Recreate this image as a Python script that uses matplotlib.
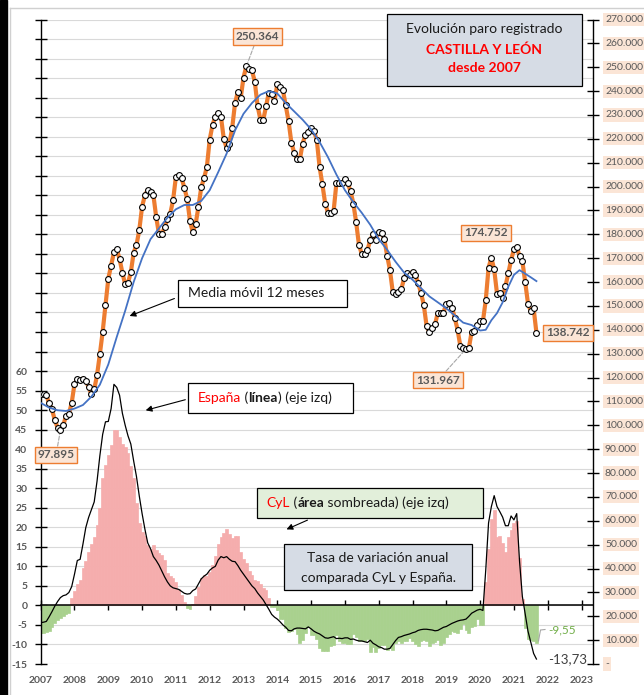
import numpy as np
import matplotlib
matplotlib.use("Agg")
import matplotlib.pyplot as plt
from matplotlib.patches import Rectangle
from matplotlib.lines import Line2D

plt.rcParams['font.family'] = ['Lato', 'DejaVu Sans']

W, H = 644, 695
START_YEAR = 2007

# paro registrado CyL, miles, ene-2007 .. sep-2021 (eje dcho)
cyl_paro = [
    113.1, 113.0, 112.6, 109.2, 106.7, 102.2, 99.0, 97.895, 100.1, 103.9, 104.7, 109.4,
    117.3, 119.2, 119.0, 119.6, 118.6, 116.1, 113.1, 115.0, 121.0, 129.8, 139.2, 150.4,
    161.4, 166.9, 172.5, 173.7, 169.7, 163.9, 159.0, 159.7, 164.1, 172.3, 175.5, 181.8,
    191.6, 196.4, 198.6, 197.8, 196.5, 187.3, 180.1, 180.1, 182.9, 186.5, 188.7, 194.3,
    204.1, 204.8, 203.7, 199.5, 194.9, 185.6, 180.8, 184.3, 191.5, 199.7, 203.5, 208.3,
    219.7, 225.8, 229.3, 231.0, 229.2, 220.0, 216.2, 218.0, 224.7, 235.0, 239.7, 237.1,
    245.7, 250.364, 249.4, 248.7, 244.0, 233.8, 228.1, 227.8, 233.7, 239.4, 238.6, 235.8,
    242.9, 241.8, 240.4, 234.0, 227.4, 218.4, 214.2, 211.4, 211.4, 218.0, 221.8, 223.0,
    224.6, 223.2, 219.7, 208.3, 201.0, 192.9, 189.1, 189.1, 189.8, 201.6, 201.6, 201.6,
    203.0, 201.3, 198.2, 192.9, 185.0, 175.5, 171.7, 171.7, 173.4, 177.6, 180.1, 177.8,
    180.8, 180.7, 178.0, 171.0, 165.0, 155.7, 155.2, 155.9, 156.9, 161.5, 163.9, 162.9,
    164.3, 162.9, 159.7, 155.5, 150.5, 141.6, 139.0, 140.7, 142.3, 147.2, 147.2, 147.2,
    151.0, 151.1, 149.3, 145.1, 140.0, 133.1, 132.3, 131.967, 132.2, 139.2, 139.4, 142.0,
    143.6, 143.6, 152.3, 166.0, 170.2, 165.3, 155.2, 155.5, 153.4, 158.3, 163.6, 169.2,
    173.7, 174.752, 170.9, 168.8, 160.1, 151.0, 147.8, 149.0, 138.742,
]

# media movil 12 meses (miles), leida cada ~3 meses
ma_month = [0, 3, 6, 9, 12, 15, 18, 21, 24, 27, 30, 33, 36, 39, 42, 45, 48, 51, 54, 57,
            60, 63, 66, 69, 72, 75, 78, 81, 84, 87, 90, 93, 96, 99, 102, 105, 108, 111,
            114, 117, 120, 123, 126, 129, 132, 135, 138, 141, 144, 147, 150, 153, 156,
            158, 160, 162, 164, 166, 168, 170, 172, 174, 176]
ma_value = [109.4, 107.4, 106.3, 106.0, 107.0, 108.5, 112.0, 117.0, 125.5, 137.0, 148.0,
            160.0, 170.0, 178.0, 182.5, 187.0, 190.5, 192.3, 192.3, 194.0, 198.5, 206.0,
            213.8, 223.5, 230.5, 235.0, 238.5, 240.0, 239.0, 235.0, 231.5, 228.0, 224.0,
            218.7, 212.3, 205.0, 198.5, 193.5, 189.0, 184.0, 178.0, 173.5, 168.5, 164.0,
            161.0, 157.5, 154.0, 151.5, 149.0, 146.0, 143.0, 142.0, 139.7, 140.0, 144.0,
            147.0, 151.5, 158.0, 163.0, 165.0, 163.5, 162.0, 160.4]

# tasa de variacion anual Espana (%) (eje izq)
spain_rate = [
    -4.4, -4.3, -4.1, -2.9, -1.6, -0.2, 1.0, 2.0, 2.5, 2.7, 3.3, 4.8,
    8.0, 11.5, 11.8, 15.7, 19.9, 22.5, 24.5, 26.5, 31.8, 38.3, 43.8, 47.0,
    47.1, 50.4, 56.6, 55.8, 53.8, 49.2, 46.1, 43.4, 41.3, 37.0, 33.0, 28.0,
    23.5, 19.5, 16.0, 14.5, 12.5, 11.5, 10.3, 8.8, 7.3, 6.0, 5.0, 4.5,
    4.3, 4.1, 3.6, 3.1, 2.9, 3.0, 3.8, 4.2, 5.5, 6.8, 7.5, 8.0,
    9.0, 9.6, 10.0, 11.6, 12.5, 12.2, 12.5, 11.8, 11.3, 11.2, 10.2, 9.0,
    8.0, 7.0, 6.0, 5.0, 4.3, 3.2, 2.3, 1.4, 0.2, -1.0, -2.3, -3.0,
    -3.5, -4.2, -5.0, -5.6, -6.4, -6.5, -6.0, -5.8, -5.8, -5.9, -6.0, -5.5,
    -6.0, -6.6, -7.0, -7.3, -7.8, -8.3, -8.4, -8.2, -8.0, -8.5, -8.4, -8.5,
    -8.3, -8.3, -8.7, -8.6, -8.9, -9.1, -9.1, -9.3, -9.5, -8.9, -9.7, -10.1,
    -10.6, -10.8, -11.2, -11.2, -11.0, -10.0, -9.0, -8.2, -8.0, -7.7, -7.5, -7.3,
    -7.0, -6.8, -6.4, -6.2, -6.1, -6.1, -6.2, -6.3, -6.5, -6.4, -6.0, -5.6,
    -5.4, -5.0, -4.6, -4.3, -4.0, -3.8, -3.7, -3.5, -2.8, -2.0, -1.6, -1.2,
    -1.0, -1.3, 9.0, 21.1, 25.3, 28.1, 25.3, 24.0, 22.6, 20.4, 20.4, 22.9,
    21.9, 23.5, 11.3, 2.3, -2.1, -6.6, -9.4, -12.3, -13.73,
]

# tasa de variacion anual CyL (%) (area, eje izq)
cyl_rate = [
    -7.1, -7.0, -6.9, -6.6, -5.5, -4.5, -3.8, -3.2, -2.7, -2.3, -2.0, 2.0,
    3.7, 5.5, 6.5, 9.5, 11.4, 13.8, 15.7, 17.5, 20.5, 25.0, 32.5, 36.0,
    38.5, 41.0, 45.0, 45.0, 43.0, 41.2, 40.5, 38.9, 35.6, 32.5, 26.1, 21.0,
    18.8, 17.7, 15.5, 14.5, 15.5, 14.3, 13.3, 12.8, 11.5, 8.2, 7.5, 6.9,
    6.0, 4.3, 2.6, 0.9, -0.6, -0.8, 0.4, 2.3, 4.7, 7.1, 7.8, 7.5,
    8.5, 10.3, 12.6, 15.8, 17.6, 18.5, 19.6, 18.3, 17.3, 17.7, 17.8, 13.8,
    11.8, 10.9, 8.8, 7.7, 6.5, 6.3, 5.5, 4.5, 4.0, 1.9, -0.5, -0.5,
    -1.1, -3.4, -3.6, -5.9, -6.8, -6.6, -6.1, -7.2, -9.5, -8.9, -7.0, -5.4,
    -7.5, -7.7, -8.6, -11.0, -11.6, -11.7, -11.7, -10.5, -10.2, -7.5, -9.1, -9.6,
    -9.6, -9.8, -9.8, -7.4, -8.0, -9.0, -9.2, -9.2, -8.6, -11.9, -10.7, -11.8,
    -10.9, -10.2, -10.2, -11.4, -10.8, -11.3, -9.6, -9.2, -9.5, -9.1, -9.0, -8.4,
    -9.1, -9.9, -10.3, -9.1, -8.8, -9.1, -10.4, -9.7, -9.3, -8.9, -10.2, -9.6,
    -8.1, -7.2, -6.5, -6.7, -7.0, -6.0, -4.8, -6.2, -7.1, -5.4, -5.3, -3.5,
    -4.9, -5.0, 6.0, 14.5, 22.0, 24.3, 17.4, 17.8, 16.0, 13.7, 17.4, 19.2,
    21.0, 21.6, 12.2, 1.7, -5.9, -8.7, -8.9, -9.0, -9.55,
]

years = list(range(2007, 2024))
left_ticks = list(range(-15, 155, 5))
right_ticks = list(range(0, 280000, 10000))

# etiquetas de datos: (indice mes, posicion de la caja en px, con linea guia)
peak_labels = [
    (73, (257.5, 36.5), True),
    (7, (56, 455), True),
    (151, (438, 380), True),
    (169, (486, 233), False),
    (176, (568, 333), False),
]

ORANGE = "#ED7D31"
BLUE = "#4472C4"
PINK = "#F5ADAD"
GREEN = "#A9D18E"
GREY = "#595959"
PEACH = "#FBE5D6"
SLATE = "#D6DCE5"


def fx(px):
    return px / W


def fy(py):
    return 1 - py / H


def fmt_miles(v):
    return f"{v:,.0f}".replace(",", ".")


fig = plt.figure(figsize=(W / 100, H / 100), dpi=100)

# marco de la imagen
fig.patches.append(Rectangle((0, 0), fx(7), 1, transform=fig.transFigure,
                             color="black", zorder=0))
fig.lines.append(Line2D([fx(9.5), fx(9.5)], [0, fy(7.5)], transform=fig.transFigure,
                        color="#D0D0D0", lw=1))
fig.lines.append(Line2D([fx(9.5), 1], [fy(7.5), fy(7.5)], transform=fig.transFigure,
                        color="#D0D0D0", lw=1))

x0, x1, ytop, ybot = 40.7, 592.7, 19.5, 664
ax = fig.add_axes([fx(x0), fy(ybot), fx(x1) - fx(x0), fy(ytop) - fy(ybot)])
ax.set_facecolor("none")
px_year = 33.8
ax.set_xlim(START_YEAR, START_YEAR + (x1 - x0) / px_year)
ax.set_ylim(-15, 150)

t = START_YEAR + np.arange(len(cyl_paro)) / 12
cr = np.array(cyl_rate)
bar_cols = np.where(cr >= 0, PINK, GREEN)
ax.bar(t, cr, width=1 / 12, color=bar_cols, edgecolor=bar_cols,
       linewidth=0.5, zorder=1)
ax.plot(t, spain_rate, color="black", lw=0.9, zorder=3)

ax.set_yticks(left_ticks)
ax.set_yticklabels([str(v) if v <= 60 else "" for v in left_ticks])
ax.yaxis.grid(True, color="#D9D9D9", lw=0.8, zorder=0)
ax.set_axisbelow(True)
ax.tick_params(axis="y", direction="inout", length=8, width=1, pad=5.5,
               labelsize=7.5, labelcolor=GREY)
for lab in ax.get_yticklabels():
    lab.set_fontweight("bold")

ax.set_xticks(years)
ax.tick_params(axis="x", direction="inout", length=7, width=1, labelbottom=False)
for y in years:
    ax.text(y, -(680.7 - ybot) / (ybot - ytop), str(y), transform=ax.get_xaxis_transform(),
            ha="center", va="center", fontsize=7.5, fontweight="bold", color=GREY)

ax.spines["bottom"].set_position(("data", 0))
ax.spines["bottom"].set_linewidth(1.1)
ax.spines["left"].set_linewidth(1)
ax.spines["top"].set_visible(False)
ax.spines["right"].set_visible(False)

ax2 = ax.twinx()
ax2.set_ylim(0, 270000)
ax2.set_yticks(right_ticks)
ax2.tick_params(axis="y", direction="inout", length=9, width=1, labelright=False)
for s in ("top", "left", "bottom"):
    ax2.spines[s].set_visible(False)
ax2.spines["right"].set_linewidth(1)
for v in right_ticks:
    ax2.text(1 + (605 - x1) / (x1 - x0), v, fmt_miles(v) if v else "-",
             transform=ax2.get_yaxis_transform(), ha="left", va="center",
             fontsize=7.5, color=GREY,
             bbox=dict(boxstyle="square,pad=0.2", fc=PEACH, ec="none"))

paro = np.array(cyl_paro) * 1000
ax2.plot(t, paro, color=ORANGE, lw=3, marker="o", ms=4.2, mfc="white",
         mec="black", mew=0.8, zorder=2.5)
ax2.plot(START_YEAR + np.array(ma_month) / 12, np.array(ma_value) * 1000,
         color=BLUE, lw=1.3, zorder=2.6)

for idx, (bx, by), leader in peak_labels:
    ax2.annotate(fmt_miles(paro[idx]), xy=(t[idx], paro[idx]),
                 xytext=(fx(bx), fy(by)), textcoords="figure fraction",
                 ha="center", va="center", fontsize=8.5, fontweight="bold", color=GREY,
                 bbox=dict(boxstyle="square,pad=0.25", fc=PEACH, ec=ORANGE, lw=1),
                 arrowprops=dict(arrowstyle="-", color="#A6A6A6", ls="--", lw=0.8,
                                 shrinkA=0, shrinkB=3) if leader else None,
                 zorder=5)

# etiquetas finales de las tasas
fig.lines.append(Line2D([fx(538.5), fx(540.5), fx(545)], [fy(641), fy(630), fy(629.5)],
                        transform=fig.transFigure, color="#A6A6A6", lw=0.8))
fig.text(fx(548), fy(630), f"{cyl_rate[-1]:.2f}".replace(".", ","), fontsize=8.5,
         color="#70AD47", ha="left", va="center")
fig.text(fx(548), fy(659.5), f"{spain_rate[-1]:.2f}".replace(".", ","), fontsize=9.5,
         color="#404040", ha="left", va="center")


def box(x_a, y_a, x_b, y_b, fc):
    fig.patches.append(Rectangle((fx(x_a), fy(y_b)), fx(x_b) - fx(x_a), fy(y_a) - fy(y_b),
                                 transform=fig.transFigure, fc=fc, ec="black", lw=0.9,
                                 zorder=4))


def rich(x_px, y_px, parts, size=10):
    renderer = fig.canvas.get_renderer()
    x = x_px
    for txt, color, weight in parts:
        tt = fig.text(fx(x), fy(y_px), txt, color=color, fontweight=weight,
                      fontsize=size, ha="left", va="center", zorder=6)
        x += tt.get_window_extent(renderer=renderer).width


def arrow(x_from, y_from, x_to, y_to):
    fig.add_artist(matplotlib.patches.FancyArrowPatch(
        (fx(x_from), fy(y_from)), (fx(x_to), fy(y_to)), transform=fig.transFigure,
        arrowstyle="-|>", mutation_scale=9, lw=0.8, color="black", zorder=6))


# titulo
box(386.7, 14.3, 582.3, 86, SLATE)
fig.text(fx(484.5), fy(29.3), "Evolución paro registrado", ha="center", va="center",
         fontsize=10, color="#1a1a1a", zorder=6)
fig.text(fx(484.5), fy(49.3), "CASTILLA Y LEÓN", ha="center", va="center",
         fontsize=10, color="red", fontweight="bold", zorder=6)
fig.text(fx(484.5), fy(68.3), "desde 2007", ha="center", va="center",
         fontsize=10, color="red", fontweight="bold", zorder=6)

# cuadros explicativos
box(178.3, 280, 347.3, 306.7, "white")
rich(188, 293.5, [("Media móvil 12 meses", "#1a1a1a", "normal")])
arrow(177, 297.5, 127, 317)

box(188.3, 383.3, 353.3, 413.3, "white")
rich(198, 398, [("España", "red", "normal"), (" (", "#1a1a1a", "normal"),
                ("línea", "#1a1a1a", "bold"), (") (eje izq)", "#1a1a1a", "normal")])
arrow(188, 399, 143, 411)

box(256.7, 488.3, 483.3, 518.3, "#E2EFDA")
rich(266.5, 503, [("CyL", "red", "normal"), (" (", "#1a1a1a", "normal"),
                  ("área", "#1a1a1a", "bold"),
                  (" sombreada) (eje izq)", "#1a1a1a", "normal")])
arrow(310, 519, 284, 530.5)

box(284, 544, 472.3, 590, SLATE)
fig.text(fx(378), fy(558.5), "Tasa de variación anual", ha="center", va="center",
         fontsize=10, color="#1a1a1a", zorder=6)
fig.text(fx(378), fy(577.5), "comparada CyL y España.", ha="center", va="center",
         fontsize=10, color="#1a1a1a", zorder=6)

fig.savefig("out.png", dpi=100)
